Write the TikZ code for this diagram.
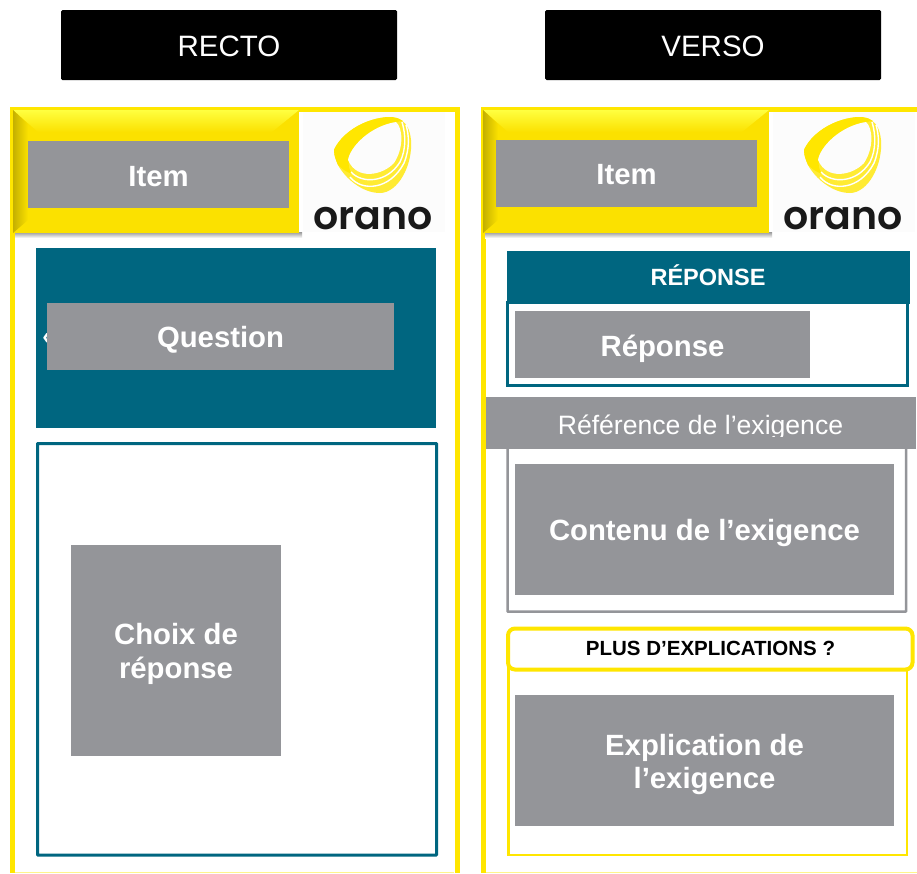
\documentclass[tikz,border=0pt]{standalone}
\usepackage{fontspec}
\setmainfont{Liberation Sans}
\newfontfamily\logofont[UprightFont=* SemiBold]{Poppins}
\definecolor{oyellow}{HTML}{FFE600}
\definecolor{bevel}{HTML}{FBE100}
\definecolor{bevellight}{HTML}{FFFF40}
\definecolor{oteal}{HTML}{006680}
\definecolor{ogray}{HTML}{949599}
\newcommand{\drop}[1]{\rule{0pt}{#1pt}}
\tikzset{
  blackbox/.style={fill=black,rounded corners=1.5pt,text=white,inner sep=0pt,minimum width=336pt,minimum height=70pt,font=\fontsize{29.5}{33}\selectfont},
  graybox/.style={fill=ogray,text=white,inner sep=0pt,font=\fontsize{29.3}{33.5}\selectfont\bfseries,align=center},
  tealbox/.style={fill=oteal,text=white,inner sep=0pt},
  yframe/.style={draw=oyellow,line width=5pt},
  paleline/.style={draw=oyellow!45,line width=1pt},
}
\newcommand{\orlogo}[2]{%
  \begin{scope}[shift={(#2,0)}]
    \fill[black!1] (303,112) rectangle (445,232);
    \fill[oyellow!80!white]
      (334,150) .. controls (340,136) and (358,122) .. (380,118)
      .. controls (398,115) and (409,120) .. (411,140)
      .. controls (413,165) and (398,193) .. (380,193)
      .. controls (362,193) and (345,178) .. (338,165)
      .. controls (336,160) and (334,156) .. (334,150) -- cycle;
    \fill[oyellow]
      (334,150) .. controls (340,136) and (358,122) .. (380,118)
      .. controls (390,116) and (398,117) .. (403,121)
      .. controls (385,122) and (360,138) .. (349,160)
      .. controls (348,165) and (349,170) .. (352,174)
      .. controls (346,172) and (341,168) .. (338,165)
      .. controls (336,160) and (334,156) .. (334,150) -- cycle;
    \fill[black!1]
      (348,160) .. controls (350,147) and (370,126) .. (396,122)
      .. controls (403,128) and (404,148) .. (394,163)
      .. controls (383,175) and (357,181) .. (348,160) -- cycle;
    \draw[white,line width=1.4pt] (351,172) .. controls (362,184) and (387,183) .. (400,162) .. controls (406,150) and (406,135) .. (402,122);
    \draw[white,line width=1.4pt] (350,177) .. controls (362,192) and (390,190) .. (404,163) .. controls (410,148) and (409,135) .. (406,125);
    \node[inner sep=0pt,anchor=base,text=black!90] (#1) at (373,229) {\logofont\fontsize{39.5}{42}\selectfont orano};
  \end{scope}}
\newcommand{\bevelbox}[1]{%
  \begin{scope}[shift={(#1,0)}]
    \shade[top color=black!40,bottom color=white] (15,232) rectangle (302,238);
    \fill[bevel] (13,110) rectangle (299,233);
    \shade[top color=bevellight,bottom color=bevel] (13,110) -- (299,110) -- (272,132) -- (38,132) -- cycle;
    \shade[left color=black!22!bevel,right color=bevel] (13,110) -- (28,124) -- (28,220) -- (13,233) -- cycle;
  \end{scope}}
\begin{document}
\begin{tikzpicture}[x=1pt,y=-1pt]
  \useasboundingbox (0,0) rectangle (917,873);
  \fill[white] (0,0) rectangle (917,873);
  \begin{scope}
    \clip (0,0) rectangle (917,873);
    % headers
    \node[blackbox] (recto) at (229,45) {\raisebox{-11pt}[0pt][0pt]{RECTO}};
    \node[blackbox] (verso) at (713,45) {\raisebox{-11pt}[0pt][0pt]{VERSO}};
    % outer frames
    \draw[yframe] (12.8,873) -- (12.8,109.7) -- (457,109.7) -- (457,873);
    \draw[yframe] (483,873) -- (483,109.7) -- (925,109.7);
    \draw[paleline] (15,872.5) -- (454,872.5);
    \draw[paleline] (486,872.5) -- (917,872.5);
    % header bands
    \orlogo{logoL}{0}
    \orlogo{logoR}{470}
    \bevelbox{0}
    \bevelbox{470}
    \node[graybox,minimum width=261pt,minimum height=67pt] (itemL) at (158.5,174.5) {\drop{25}Item};
    \node[graybox,minimum width=261pt,minimum height=67pt] (itemR) at (626.5,173.5) {\drop{23}Item};
    % recto body
    \node[tealbox,minimum width=400pt,minimum height=180pt] (qband) at (236,337.5) {};
    \node[text=white,inner sep=0pt,font=\fontsize{24}{28}\selectfont\bfseries] (guil) at (49,339) {«};
    \node[graybox,minimum width=347pt,minimum height=67pt] (question) at (220.5,336.5) {\drop{28}Question};
    \draw[draw=oteal,line width=3pt,rounded corners=.5pt,fill=white] (37.5,443.5) rectangle (436.5,855);
    \node[graybox,minimum width=210pt,minimum height=211pt] (choix) at (176,650.5) {\drop{28}Choix de\\réponse};
    % verso: reponse
    \draw[draw=oteal,line width=3pt,fill=white] (507.5,302) rectangle (907.5,385);
    \node[tealbox,minimum width=403pt,minimum height=53pt,font=\fontsize{23.5}{26}\selectfont\bfseries] (rephead) at (708,277) {\raisebox{-8.5pt}[0pt][0pt]{RÉPONSE}};
    \node[graybox,minimum width=295pt,minimum height=67pt] (reponse) at (662.5,344.5) {\drop{30}Réponse};
    % verso: exigence
    \draw[draw=ogray,line width=2.5pt,rounded corners=.5pt,fill=white] (507.5,440) rectangle (906,611.5);
    \node[fill=ogray,text=white,inner sep=0pt,minimum width=430pt,minimum height=52pt,font=\fontsize{26.6}{30}\selectfont] (refex) at (700.5,423) {\raisebox{-11pt}[0pt][0pt]{Référence de l’exigence}};
    \fill[ogray] (486,436.5) rectangle (915.5,449);
    \node[graybox,minimum width=379pt,minimum height=131pt] (contenu) at (704.5,529.5) {\drop{28}Contenu de l’exigence};
    % verso: explications
    \draw[draw=oyellow,line width=2.5pt,fill=white] (508.5,668) rectangle (907,855);
    \draw[draw=oyellow,line width=4pt,rounded corners=7pt,fill=white] (508,628.5) rectangle (912.5,669.5);
    \node[inner sep=0pt,text=black,font=\fontsize{20.5}{22}\selectfont\bfseries] (plus) at (710.5,648.5) {PLUS D’EXPLICATIONS ?};
    \node[graybox,minimum width=379pt,minimum height=131pt] (expl) at (704.5,760.5) {\drop{29.5}Explication de\\l’exigence};
  \end{scope}
\end{tikzpicture}
\end{document}
